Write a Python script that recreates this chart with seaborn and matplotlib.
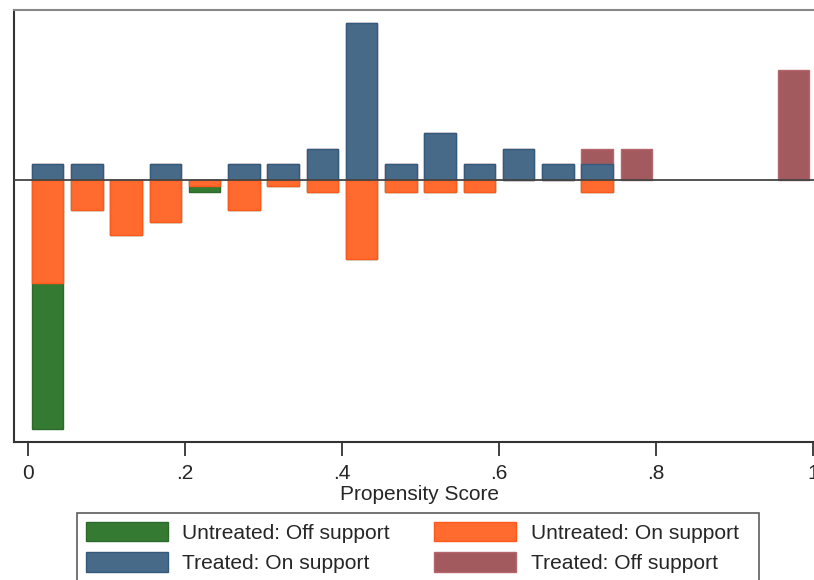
import numpy as np
import matplotlib
matplotlib.use('Agg')
import matplotlib.pyplot as plt
import seaborn as sns
from matplotlib.patches import Patch

# propensity score bins (mid points, width .05) and counts per group
bin_mid = [0.025, 0.075, 0.125, 0.175, 0.225, 0.275, 0.325, 0.375, 0.425, 0.475,
           0.525, 0.575, 0.625, 0.675, 0.725, 0.775, 0.825, 0.875, 0.925, 0.975]
treated_on = [1, 1, 0, 1, 0, 1, 1, 2, 10, 1, 3, 1, 2, 1, 1, 0, 0, 0, 0, 0]
treated_off = [0, 0, 0, 0, 0, 0, 0, 0, 0, 0, 0, 0, 0, 0, 1, 2, 0, 0, 0, 7]
untreated_on = [17, 5, 9, 7, 1, 5, 1, 2, 13, 2, 2, 2, 0, 0, 2, 0, 0, 0, 0, 0]
untreated_off = [24, 0, 0, 0, 1, 0, 0, 0, 0, 0, 0, 0, 0, 0, 0, 0, 0, 0, 0, 0]
bin_w = 0.05

tick_pos = [0, 0.2, 0.4, 0.6, 0.8, 1]
tick_lab = ['0', '.2', '.4', '.6', '.8', '1']
labels = ['Untreated: Off support', 'Treated: On support',
          'Untreated: On support  ', 'Treated: Off support']

c_green, c_orange, c_blue, c_red = '#357a32', '#ff6a2f', '#476a89', '#a35a5e'
e_green, e_orange, e_blue, e_red = '#2b6a29', '#ff5a1c', '#33597b', '#b5666c'

n_t = sum(treated_on) + sum(treated_off)
n_u = sum(untreated_on) + sum(untreated_off)


def dens(counts, n, sign=1):
    d = sign * np.array(counts, dtype=float) / (n * bin_w)
    d[d == 0] = np.nan  # empty bins: no bar at all
    return d


# densities, treated up and untreated down
t_on = dens(treated_on, n_t)
t_all = dens(np.add(treated_on, treated_off), n_t)
u_on = dens(untreated_on, n_u, -1)
u_all = dens(np.add(untreated_on, untreated_off), n_u, -1)

sns.set_style('white')
plt.rcParams['font.family'] = ['Liberation Sans', 'DejaVu Sans']

fig = plt.figure(figsize=(8.14, 5.8), dpi=100)
ax = fig.add_axes([14 / 814, 138 / 580, 812 / 814, 432 / 580])

# stacked bars: draw the totals first, then the "on support" part over them
for vals, col, ec in [(t_all, c_red, e_red), (t_on, c_blue, e_blue),
                      (u_all, c_green, e_green), (u_on, c_orange, e_orange)]:
    sns.barplot(x=bin_mid, y=vals, native_scale=True, width=0.8, color=col,
                saturation=1, edgecolor=ec, linewidth=1, ax=ax)

ax.axhline(0, color='#444444', lw=1.3, zorder=5)

ax.set_xlim(-0.0178, 1.0166)
ax.set_ylim(-9.29, 6.03)
ax.set_yticks([])
ax.set_xticks(tick_pos)
ax.set_xticklabels(tick_lab)
ax.tick_params(axis='x', length=10, width=1.3, color='#333333', pad=6,
               labelsize=15, bottom=True)
ax.set_xlabel('Propensity Score', fontsize=15, labelpad=1)
ax.set_ylabel('')

for s in ['left', 'bottom']:
    ax.spines[s].set_color('#333333')
    ax.spines[s].set_linewidth(1.5)
ax.spines['top'].set_color('#888888')
ax.spines['top'].set_linewidth(1.5)
ax.spines['right'].set_visible(False)

handles = [Patch(facecolor=c_green, edgecolor=e_green),
           Patch(facecolor=c_blue, edgecolor=e_blue),
           Patch(facecolor=c_orange, edgecolor=e_orange),
           Patch(facecolor=c_red, edgecolor=e_red)]
leg = fig.legend(handles, labels, ncol=2, loc='upper left',
                 bbox_to_anchor=(76.7 / 814, 1 - 513 / 580), fontsize=15.1,
                 frameon=True, fancybox=False, edgecolor='#333333',
                 handlelength=3.9, handleheight=1.05, handletextpad=0.68,
                 columnspacing=2.15, borderpad=0.43, labelspacing=0.45,
                 borderaxespad=0)
leg.get_frame().set_linewidth(1.2)

fig.savefig('out.png', dpi=100)
